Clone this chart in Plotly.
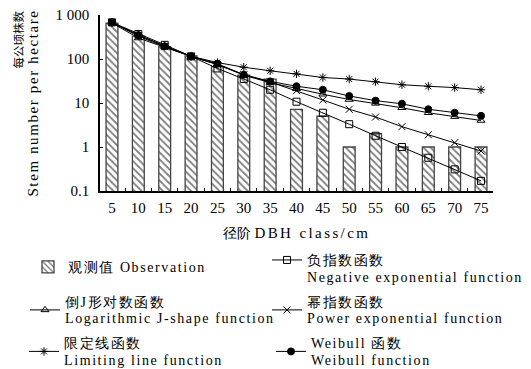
import plotly.graph_objects as go

# ---------------- data ----------------
dbh_classes = ["5", "10", "15", "20", "25", "30", "35", "40", "45", "50", "55", "60", "65", "70", "75"]
observation = [650, 330, 190, 117, 67, 43, 35, 7.2, 5, 1, 2, 1, 1, 1, 1]
negative_exp = [680, 370, 210, 115, 61, 35, 20, 10.7, 6.0, 3.3, 1.8, 1.0, 0.57, 0.31, 0.17]
log_jshape = [660, 300, 185, 115, 75, 43, 29, 21, 15.8, 12, 9.8, 7.8, 6.0, 4.9, 4.0]
power_exp = [680, 330, 190, 115, 75, 44, 30, 19, 11.7, 7.2, 4.8, 2.9, 1.9, 1.25, 0.81]
limiting_line = [680, 350, 200, 115, 83, 65, 54, 46, 38, 35, 30.5, 26, 24, 22.4, 20]
weibull = [680, 350, 195, 115, 78, 44, 31, 24, 20, 14.4, 11.3, 9.6, 7.2, 6.0, 5.1]

y_tickvals = [0.1, 1, 10, 100, 1000]
y_ticktext = ["0.1", "1", "10", "100", "1 000"]

names = {
    "obs": "观测值 Observation",
    "neg": "负指数函数<br>Negative exponential function",
    "logj": "倒J形对数函数<br>Logarithmic J-shape function",
    "pow": "幂指数函数<br>Power exponential function",
    "lim": "限定线函数<br>Limiting line function",
    "wei": "Weibull 函数<br>Weibull function",
}

FONT = "Liberation Serif"


def spaced(text, ls=1.6, size=14):
    return "<br>".join(
        f'<span style="font-family:Liberation Serif;font-size:{size}px;letter-spacing:{ls}px">{line}</span>'
        for line in text.split("<br>")
    )


fig = go.Figure()

fig.add_trace(go.Bar(
    x=dbh_classes, y=observation, name=spaced(names["obs"]), width=0.45,
    marker=dict(color="white", line=dict(color="#444", width=1.3),
                pattern=dict(shape="\\", fgcolor="black", bgcolor="white", size=5, solidity=0.35)),
    legend="legend",
))

line_specs = [
    ("neg", negative_exp, "square-open", 7, "legend2"),
    ("logj", log_jshape, "triangle-up-open", 7, "legend3"),
    ("pow", power_exp, "x-thin-open", 7, "legend4"),
    ("lim", limiting_line, "asterisk-open", 7, "legend5"),
    ("wei", weibull, "circle", 7, "legend6"),
]
for key, vals, sym, sz, lg in line_specs:
    fig.add_trace(go.Scatter(
        x=dbh_classes, y=vals, mode="lines+markers", name=spaced(names[key]),
        line=dict(color="black", width=1),
        marker=dict(symbol=sym, size=sz, color="black",
                    line=dict(color="black", width=1)),
        legend=lg,
    ))

L, R, T, B = 100, 493, 15, 191
W, H = R - L, B - T


def px(xp):
    return (xp - L) / W


def py(yp):
    return (B - yp) / H


leg_pos = [(28, 252, "middle"), (267, 245, "top"), (25, 286.5, "middle"),
           (267, 286.5, "middle"), (24, 328, "middle"), (271, 328, "middle")]
legends = {}
for i, (lx, ly, va) in enumerate(leg_pos):
    key = "legend" if i == 0 else f"legend{i+1}"
    legends[key] = dict(x=px(lx), y=py(ly), valign=va, xanchor="left", yanchor="top",
                        font=dict(family=FONT, size=13, color="black"),
                        bgcolor="rgba(0,0,0,0)", borderwidth=0)

y_title = ('<span style="font-family:Noto Sans CJK SC;font-size:11.5px">'
           + "\u3000" * 11 + "每公顷株数</span><br>"
           '<span style="font-family:Liberation Serif;font-size:15px;letter-spacing:1.6px">'
           "Stem number per hectare</span>")

fig.update_layout(
    width=531, height=369,
    margin=dict(l=L, r=531 - R, t=T, b=369 - B, autoexpand=False),
    paper_bgcolor="white", plot_bgcolor="white",
    font=dict(family=FONT, size=15, color="black"),
    showlegend=True,
    **legends,
    xaxis=dict(
        type="category", range=[-0.4545, 14.4545],
        showline=True, linecolor="black", linewidth=1.5,
        ticks="inside", ticklen=3, tickcolor="black", tickson="boundaries",
        showgrid=False, zeroline=False, ticklabelstandoff=2,
        tickfont=dict(family=FONT, size=15),
        title=dict(text='<span style="font-size:14px">径阶</span> '
                        '<span style="font-family:Liberation Serif;letter-spacing:2.4px">DBH class/cm</span>',
                   font=dict(family=FONT, size=15), standoff=13),
    ),
    yaxis=dict(
        type="log", range=[-1, 3],
        showline=True, linecolor="black", linewidth=1.5,
        ticks="inside", ticklen=3, tickcolor="black",
        tickvals=y_tickvals, ticktext=y_ticktext,
        showgrid=False, zeroline=False, ticklabelstandoff=6,
        tickfont=dict(family=FONT, size=15),
        title=dict(text=y_title, font=dict(family=FONT, size=12), standoff=14),
    ),
)

fig.write_html("out.html", config={"displayModeBar": False},
               post_script="document.body.style.margin='0';")
